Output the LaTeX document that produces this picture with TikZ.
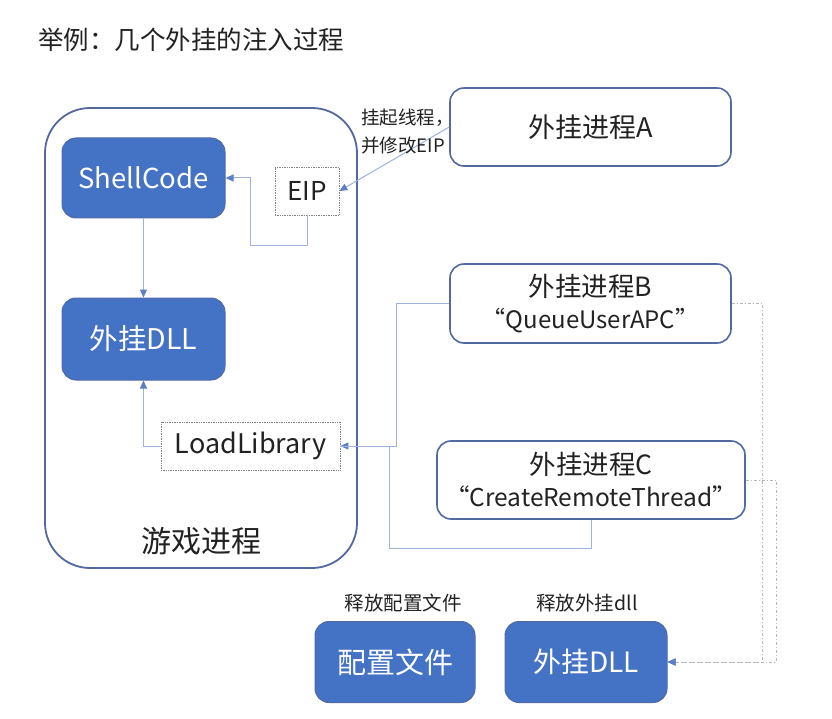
\documentclass[tikz,border=0pt]{standalone}
\usepackage{fontspec}
\setmainfont{Noto Sans CJK SC}
\usetikzlibrary{arrows.meta}
\definecolor{fillblue}{HTML}{4472C4}
\definecolor{edgeblue}{HTML}{5468A0}
\definecolor{connblue}{HTML}{9DB3DE}
\definecolor{tipblue}{HTML}{5B7FC8}
\definecolor{dotgray}{HTML}{B8B8B8}
\definecolor{txt}{HTML}{222222}
\tikzset{
  bluebox/.style={draw=edgeblue!80!fillblue, line width=1pt, fill=fillblue, rounded corners=14pt, text=white, inner sep=0pt, font=\fontsize{28}{30}\selectfont},
  whitebox/.style={draw=edgeblue, line width=1.6pt, fill=white, rounded corners=14pt, text=txt, inner sep=0pt, align=center, font=\fontsize{24}{32}\selectfont},
  dotbox/.style={draw=gray, densely dotted, line width=0.7pt, fill=white, text=txt, inner sep=0pt, font=\fontsize{26}{30}\selectfont},
  conn/.style={draw=connblue, line width=1pt},
  arr/.style={conn, -{Triangle[length=8pt,width=7pt,color=tipblue]}},
  dotline/.style={draw=dotgray, line width=0.9pt, dash pattern=on 3pt off 2pt on 1pt off 2pt},
  dotarr/.style={dotline, -{Triangle[length=8pt,width=7pt,color=tipblue]}},
  small/.style={text=txt, font=\fontsize{19.5}{24}\selectfont, inner sep=0pt},
  cjkbig/.style={font=\fontsize{27}{32}\selectfont},
}
\begin{document}
\begin{tikzpicture}[x=1pt,y=-1pt]
\useasboundingbox (0,0) rectangle (832,719);
\fill[white] (0,0) rectangle (832,719);

% title
\node[anchor=west, text=txt, inner sep=0pt, font=\fontsize{25.5}{28}\selectfont] (title) at (38,40) {举例：几个外挂的注入过程};

% game process container
\node[draw=edgeblue, line width=1.8pt, rounded corners=45pt, minimum width=312pt, minimum height=460pt, inner sep=0pt] (game) at (201,338) {};
\node[text=txt, inner sep=0pt, font=\fontsize{30}{32}\selectfont] (gamelabel) at (201,541) {游戏进程};

% inner boxes
\node[bluebox, minimum width=163pt, minimum height=80pt, font=\fontsize{27.5}{30}\selectfont] (shell) at (143.5,178) {ShellCode};
\node[bluebox, minimum width=163pt, minimum height=82pt, font=\fontsize{28.5}{30}\selectfont] (dllA) at (143.5,339) {外挂DLL};
\node[dotbox, minimum width=64pt, minimum height=48pt] (eip) at (307,191) {EIP};
\node[dotbox, minimum width=179pt, minimum height=48pt, font=\fontsize{27}{30}\selectfont] (ll) at (250.5,446) {LoadLibrary};

% external processes
\node[whitebox, minimum width=281pt, minimum height=78pt, cjkbig] (pa) at (590.5,127) {外挂进程A};
\node[whitebox, minimum width=281pt, minimum height=79pt] (pb) at (590.5,303.5) {{\fontsize{26.5}{32}\selectfont 外挂进程B}\\“QueueUserAPC”};
\node[whitebox, minimum width=308pt, minimum height=78pt] (pc) at (591,480) {{\fontsize{26.5}{32}\selectfont 外挂进程C}\\{\fontsize{24.5}{32}\selectfont “CreateRemoteThread”}};

% bottom files
\node[bluebox, minimum width=160pt, minimum height=81pt, font=\fontsize{29}{30}\selectfont] (cfg) at (395,662) {配置文件};
\node[bluebox, minimum width=162pt, minimum height=81pt] (dllB) at (586,662) {外挂DLL};
\node[small] (cfglabel) at (403,603) {释放配置文件};
\node[small] (dlllabel) at (587,603) {释放外挂dll};

% connectors inside the game
\draw[arr] (shell.south) -- (dllA.north);
\coordinate (eipturn) at (250,246);
\draw[arr] (eip.south) |- (eipturn) |- (shell.east);
\draw[arr] (ll.west) -| (dllA.south);

% A -> EIP
\draw[arr] (pa.west) -- (eip.east);
\node[small, anchor=west, align=left, font=\fontsize{18.5}{28}\selectfont] (alabel) at (361,132) {挂起线程，\\并修改EIP};

% B, C -> LoadLibrary
\coordinate (bturn) at (396,303.5);
\draw[arr] (pb.west) -- (bturn) |- (ll.east);
\coordinate (cturn) at (389,548);
\draw[conn] (pc.south) |- (cturn) |- (ll.east);

% dotted release lines
\coordinate (bdown) at (762,662);
\coordinate (cdown) at (776,662);
\draw[dotarr] (pb.east) -| (bdown) -- (dllB.east);
\draw[dotarr] (pc.east) -| (cdown) -- (dllB.east);
\end{tikzpicture}
\end{document}
